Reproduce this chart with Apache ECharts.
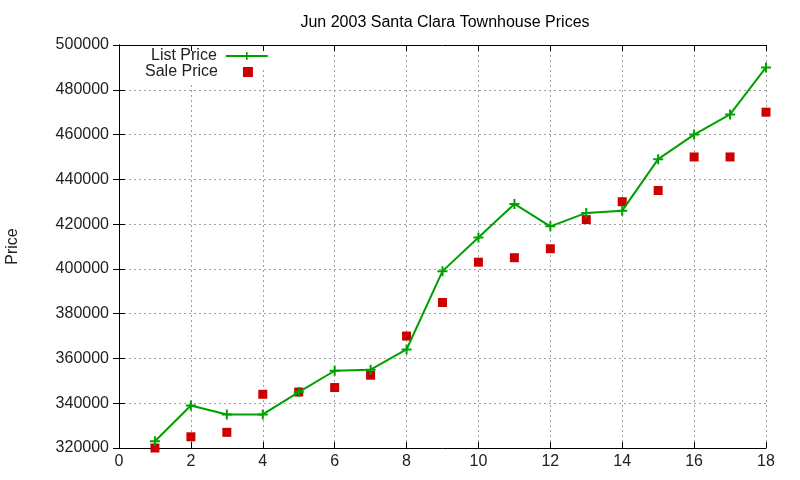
<!DOCTYPE html>
<html>
<head>
<meta charset="utf-8">
<script src="https://cdn.jsdelivr.net/npm/echarts@6/dist/echarts.min.js"></script>
<style>
html, body { margin: 0; padding: 0; background: #fff; }
#main { width: 800px; height: 480px; }
</style>
</head>
<body>
<div id="main"></div>
<script>
// month index (x) and prices
var months = [1, 2, 3, 4, 5, 6, 7, 8, 9, 10, 11, 12, 13, 14, 15, 16, 17, 18];
var listPrice = [323000, 339000, 335000, 335000, 345000, 354500, 355000, 364000, 399000,
                 414000, 429000, 419000, 425000, 426000, 449000, 460000, 469000, 490000];
var salePrice = [320000, 325000, 327000, 344000, 345000, 347000, 352500, 370000, 385000,
                 403000, 405000, 409000, 422000, 430000, 435000, 450000, 450000, 470000];

function pairs(xs, ys) {
	var out = [];
	for (var i = 0; i < xs.length; i++) {
		out.push([xs[i], ys[i]]);
	}
	return out;
}

var chart = echarts.init(document.getElementById('main'), null, { renderer: 'canvas' });

var font = 'Liberation Sans, Arial, sans-serif';
var gridLine = { show: true, lineStyle: { color: '#a0a0a0', type: [2, 3], width: 1 } };
var plusIcon = 'path://M4,0H6V4H10V6H6V10H4V6H0V4H4Z';

var option = {
	animation: false,
	backgroundColor: '#fff',
	textStyle: { fontFamily: font },
	title: {
		text: 'Jun 2003 Santa Clara Townhouse Prices',
		left: 440,
		top: 10,
		textAlign: 'center',
		textStyle: { fontSize: 16, fontWeight: 'normal', color: '#000', fontFamily: font }
	},
	legend: [{
		orient: 'vertical',
		align: 'right',
		left: 146,
		top: 43,
		itemWidth: 42,
		itemHeight: 10,
		backgroundColor: '#fff',
		textStyle: { fontSize: 16, color: '#222', fontFamily: font, padding: [0, 4, 0, 0] },
		data: ['List Price']
	}, {
		orient: 'vertical',
		align: 'right',
		left: 140,
		top: 59,
		itemWidth: 10,
		itemHeight: 10,
		backgroundColor: '#fff',
		textStyle: { fontSize: 16, color: '#222', fontFamily: font, padding: [0, 20, 0, 0] },
		data: ['Sale Price']
	}],
	grid: { left: 119, right: 34, top: 45, bottom: 32, containLabel: false, outerBoundsMode: 'none' },
	xAxis: [{
		type: 'value',
		min: 0, max: 18, interval: 2,
		axisLine: { show: true, lineStyle: { color: '#000', width: 1 } },
		axisTick: { show: true, inside: true, length: 6, lineStyle: { color: '#000' } },
		axisLabel: { fontSize: 16, color: '#222', margin: 6, fontFamily: font },
		splitLine: gridLine
	}, {
		type: 'value', position: 'top',
		min: 0, max: 18, interval: 2,
		z: 6,
		axisLine: { show: true, lineStyle: { color: '#000', width: 1 } },
		axisTick: { show: true, inside: true, length: 6, lineStyle: { color: '#000' } },
		axisLabel: { show: false },
		splitLine: { show: false }
	}],
	yAxis: [{
		type: 'value',
		min: 320000, max: 500000, interval: 20000,
		name: 'Price',
		nameLocation: 'middle',
		nameGap: 98,
		nameRotate: 90,
		nameTextStyle: { fontSize: 16, color: '#222', fontFamily: font },
		axisLine: { show: true, lineStyle: { color: '#000', width: 1 } },
		axisTick: { show: true, inside: true, length: 6, lineStyle: { color: '#000' } },
		axisLabel: {
			fontSize: 16, color: '#222', margin: 10, fontFamily: font,
			formatter: function (v) { return String(v); }
		},
		splitLine: gridLine
	}, {
		type: 'value', position: 'right',
		min: 320000, max: 500000, interval: 20000,
		axisLine: { show: true, lineStyle: { color: '#000', width: 1 } },
		axisTick: { show: true, inside: true, length: 6, lineStyle: { color: '#000' } },
		axisLabel: { show: false },
		splitLine: { show: false }
	}],
	series: [{
		name: 'List Price',
		type: 'line',
		xAxisIndex: 0, yAxisIndex: 0,
		data: pairs(months, listPrice),
		symbol: plusIcon,
		symbolSize: 10,
		showAllSymbol: true,
		color: '#00a000',
		itemStyle: { color: '#00a000', opacity: 1 },
		lineStyle: { color: '#00a000', width: 2 },
		z: 3
	}, {
		name: 'Sale Price',
		type: 'scatter',
		xAxisIndex: 0, yAxisIndex: 0,
		data: pairs(months, salePrice),
		symbol: 'rect',
		symbolSize: 9,
		color: '#cc0000',
		itemStyle: { color: '#cc0000', opacity: 1 },
		z: 2
	}]
};

chart.setOption(option);
</script>
</body>
</html>
